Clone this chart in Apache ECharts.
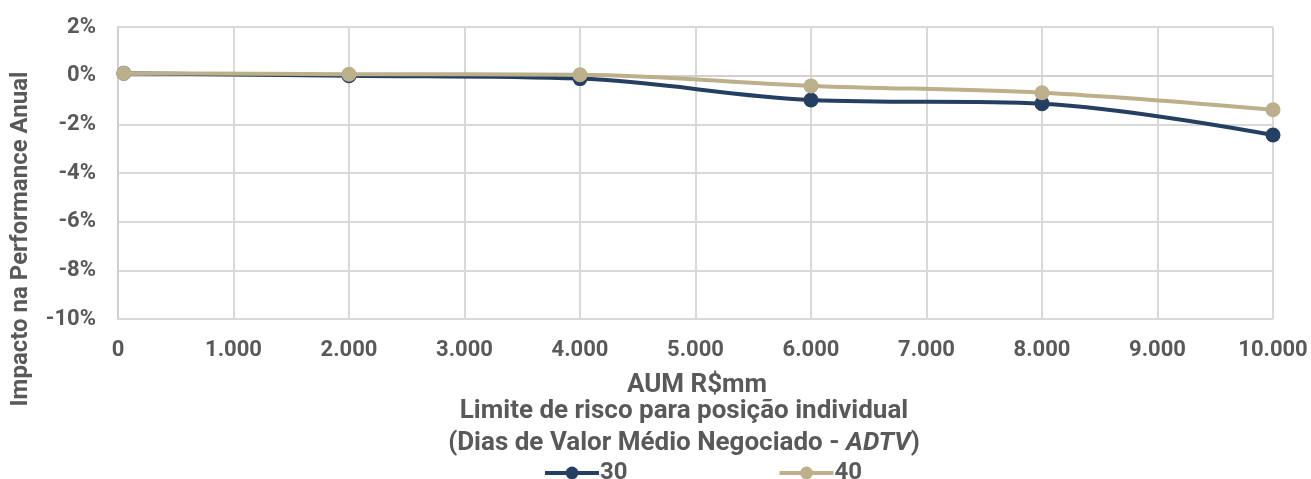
<!DOCTYPE html>
<html>
<head>
<meta charset="utf-8">
<script src="https://cdn.jsdelivr.net/npm/echarts@6/dist/echarts.min.js"></script>
<style>
  html, body { margin: 0; padding: 0; background: #fff; }
  #chart { width: 1311px; height: 479px; }
</style>
</head>
<body>
<div id="chart"></div>
<script>
// AUM (R$ mm) at which each scenario was simulated
const aum = [50, 2000, 4000, 6000, 8000, 10000];
// Annual performance impact (%) per ADTV-days risk limit
const limit30 = [0.1, 0.0, -0.12, -1.0, -1.15, -2.44];
const limit40 = [0.1, 0.06, 0.04, -0.42, -0.7, -1.4];
const seriesNames = ['30', '40'];
const yTickValues = [2, 0, -2, -4, -6, -8, -10];

const textColor = '#595959';
const fontFamily = 'Roboto, "Liberation Sans", sans-serif';

const chart = echarts.init(document.getElementById('chart'));
const pairs = (xs, ys) => xs.map((x, i) => [x, ys[i]]);

const boldText = (size) => ({ fill: textColor, fontSize: size, fontWeight: 'bold', fontFamily: fontFamily });

chart.setOption({
  animation: false,
  textStyle: { fontFamily: fontFamily, color: textColor },
  grid: { left: 118, right: 38, top: 27, bottom: 160, containLabel: false },
  xAxis: {
    type: 'value',
    min: 0, max: 10000, interval: 1000,
    axisLine: { show: true, lineStyle: { color: '#d0d0d0', width: 2 } },
    axisTick: { show: false },
    splitLine: { show: true, lineStyle: { color: '#d9d9d9', width: 2 } },
    axisLabel: {
      margin: 20,
      color: textColor, fontSize: 22, fontWeight: 'bold', fontFamily: fontFamily,
      formatter: v => v === 0 ? '0' : v.toLocaleString('de-DE')
    }
  },
  yAxis: {
    type: 'value',
    min: -10, max: 2, interval: 2,
    axisLine: { show: true, lineStyle: { color: '#d0d0d0', width: 2 } },
    axisTick: { show: false },
    splitLine: { show: true, lineStyle: { color: '#d9d9d9', width: 2 } },
    axisLabel: {
      margin: 22,
      color: textColor, fontSize: 22, fontWeight: 'bold', fontFamily: fontFamily,
      formatter: v => yTickValues.includes(v) ? v + '%' : ''
    }
  },
  legend: {
    top: 456, left: 538,
    itemGap: 150, itemWidth: 54, itemHeight: 16,
    lineStyle: { width: 4 },
    textStyle: { color: textColor, fontSize: 24, fontWeight: 'bold', fontFamily: fontFamily, padding: [0, 0, 0, -4] },
    data: seriesNames
  },
  graphic: [
    {
      type: 'text', x: 21, y: 239, rotation: Math.PI / 2,
      style: Object.assign({ text: 'Impacto na Performance Anual', align: 'center', verticalAlign: 'middle' }, boldText(24))
    },
    {
      type: 'text', x: 697, y: 385,
      style: Object.assign({ text: 'AUM R$mm', align: 'center', verticalAlign: 'middle' }, boldText(26))
    },
    {
      type: 'text', x: 684, y: 411,
      style: Object.assign({ text: 'Limite de risco para posição individual', align: 'center', verticalAlign: 'middle' }, boldText(26))
    },
    {
      type: 'text', x: 684, y: 443,
      style: Object.assign({
        text: '(Dias de Valor Médio Negociado - {i|ADTV})', align: 'center', verticalAlign: 'middle',
        rich: { i: { fontStyle: 'italic', fontWeight: 'bold', fontSize: 26, fill: textColor, fontFamily: fontFamily } }
      }, boldText(26))
    }
  ],
  series: [
    {
      name: seriesNames[0], type: 'line', smooth: 0.35,
      data: pairs(aum, limit30),
      symbol: 'circle', symbolSize: 15,
      lineStyle: { color: '#243f62', width: 4 },
      itemStyle: { color: '#243f62' },
      z: 2
    },
    {
      name: seriesNames[1], type: 'line', smooth: 0.35,
      data: pairs(aum, limit40),
      symbol: 'circle', symbolSize: 15,
      lineStyle: { color: '#bcb08a', width: 4 },
      itemStyle: { color: '#bcb08a' },
      z: 3
    }
  ]
});
</script>
</body>
</html>
